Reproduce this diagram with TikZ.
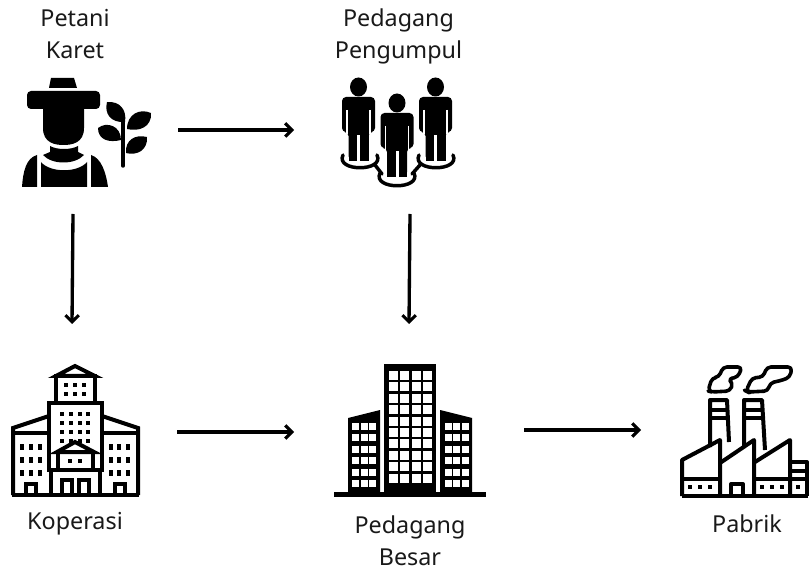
\documentclass[tikz,border=0pt]{standalone}
\usepackage{fontspec}
\setmainfont{Noto Sans}
\usetikzlibrary{arrows.meta}
\tikzset{
  flow/.style={line width=2.5pt,-{Straight Barb[length=5pt,width=10pt,line width=2.3pt]}},
  lbl/.style={font=\fontsize{17.5}{24}\selectfont,align=center,text=black!90,inner sep=0pt},
  ln/.style={line width=3pt,line join=miter,draw=black},
  ring/.style={line width=2.6pt,line cap=round},
  frame/.style={inner sep=0pt,outer sep=0pt}
}
\begin{document}
\begin{tikzpicture}[x=.75pt,y=-.75pt]
\useasboundingbox (0,0) rectangle (810,566);
% invisible icon frames that connectors attach to
\node[frame,minimum width=157.5pt,minimum height=126pt] (petani) at (73,130) {};
\node[frame,minimum width=174pt,minimum height=126pt] (pengumpul) at (410,130) {};
\node[frame,minimum width=157.5pt,minimum height=162pt] (koperasi) at (72,432) {};
\node[frame,minimum width=172.5pt,minimum height=162pt] (besar) at (409,432) {};
\node[frame,minimum width=100pt,minimum height=100pt] (pabrik) at (707.67,430) {};
% labels
\node[lbl] (t1) at (75,34.5) {Petani\\Karet};
\node[lbl] (t2) at (398.5,36) {Pedagang\\Pengumpul};
\node[lbl] (t3) at (75,524) {Koperasi};
\node[lbl] (t4) at (410,540.5) {Pedagang\\Besar};
\node[lbl] (t5) at (747,524) {Pabrik};
% connectors
\draw[flow] (petani.east) -- (pengumpul.west);
\draw[flow] (petani.south) -- (koperasi.north);
\draw[flow] (pengumpul.south) -- (besar.north);
\draw[flow] (koperasi.east) -- (besar.west);
\draw[flow] (besar.east |- pabrik.west) -- (pabrik.west);
% farmer
\fill (51,78) -- (74,78) -- (77,88) -- (49,88) -- cycle;
\fill[rounded corners=3] (27,91) rectangle (100,109);
\fill (43,105) -- (84,105) -- (84,128) .. controls (84,143) and (72,145) .. (63.5,145) .. controls (55,145) and (43,143) .. (43,128) -- cycle;
\fill (50,146) .. controls (57,150) and (71,150) .. (78,146) -- (78,152) -- (84,155) .. controls (75,165) and (52,165) .. (43,155) -- (50,152) -- cycle;
\fill (22,187) .. controls (23,172) and (26,158) .. (37,155) -- (37,187) -- cycle;
\fill (41,162) .. controls (50,173) and (78,173) .. (87,162) -- (87,187) -- (41,187) -- cycle;
\fill (91,155) .. controls (101,158) and (106,172) .. (108,187) -- (91,187) -- cycle;
\draw[line width=2.6pt,line cap=round] (123,118) -- (123,166);
\fill (107,102) .. controls (120,101) and (127,110) .. (125,122) .. controls (111,123) and (104,114) .. (107,102) -- cycle;
\fill (151,113) .. controls (140,108) and (127,114) .. (127,129) .. controls (139,132) and (152,127) .. (151,113) -- cycle;
\fill (98,128) .. controls (107,121) and (121,126) .. (121,140) .. controls (109,143) and (98,140) .. (98,128) -- cycle;
\fill (147,137) .. controls (135,134) and (125,140) .. (126,153) .. controls (137,156) and (148,150) .. (147,137) -- cycle;
% people
\newcommand\personfig[2]{%
\begin{scope}[shift={(#1,#2)}]
\fill (0,-38) ellipse (8.5 and 9.5);
\fill[rounded corners=3] (-16.5,7) -- (-16.5,-28) -- (16.5,-28) -- (16.5,7) -- (10,7) -- (10,35) -- (1.5,35) -- (1.5,9) -- (-1.5,9) -- (-1.5,35) -- (-10,35) -- (-10,7) -- cycle;
\fill (-10,3) rectangle (10,36);
\fill[white] (-1.5,10) rectangle (1.5,36);
\draw[white,line width=1.2pt] (-11.5,-15) -- (-11.5,9) (11.5,-15) -- (11.5,9);
\end{scope}}
\draw[ring] (343,155) .. controls (335,172) and (385,172) .. (377,155);
\draw[ring] (419,155) .. controls (411,172) and (461,172) .. (453,155);
\draw[ring] (380,173) .. controls (372,190) and (422,190) .. (414,173);
\draw[ring] (375,165) -- (382,174) (420,165) -- (412,174);
\personfig{358.5}{125}
\personfig{435.5}{125}
\personfig{397}{141}
% koperasi building
\begin{scope}[ln]
\draw (56,376) -- (75,366) -- (95,376) -- cycle;
\draw (56,376) rectangle (95,403);
\draw (49,403) rectangle (102,470);
\draw (13,495) -- (13,428) -- (49,416);
\draw (102,416) -- (138,428) -- (138,495);
\draw (13,433) -- (49,433) (102,433) -- (138,433);
\draw (12,495) -- (139,495);
\draw (57,452) -- (75,442) -- (94,452) -- cycle;
\draw (58,452) rectangle (93,470);
\draw (51,470) rectangle (100,495);
\draw (62,495) -- (62,480) -- (72,480) -- (72,495);
\draw (79,495) -- (79,480) -- (89,480) -- (89,495);
\draw (26,495) -- (26,484) -- (36,484) -- (36,495);
\draw (115,495) -- (115,484) -- (125,484) -- (125,495);
\end{scope}
\foreach \y in {385,394} \foreach \x in {66,75,84} \fill (\x-2,\y-2) rectangle +(4,4);
\foreach \y in {414,423,432,441} \foreach \x in {62,71,80,88} \fill (\x-2,\y-2) rectangle +(4,4);
\foreach \x in {70,80} \fill (\x-2,461-2) rectangle +(4,4);
\foreach \y in {447,460,473} \foreach \x in {22,31,40,111,119,128} \fill (\x-2,\y-3) rectangle +(4,6);
% tall building
\fill (384,364) rectangle (436,495);
\foreach \r in {0,...,9} \foreach \c in {0,...,3}
  \fill[white] (389+\c*11.4,371+\r*11.4) rectangle +(9,9);
\fill (348,418) -- (380,410) -- (380,495) -- (348,495) -- cycle;
\fill (440,410) -- (472,418) -- (472,495) -- (440,495) -- cycle;
\foreach \r in {0,...,5} \foreach \c in {0,1,2} {
  \fill[white] (352+\c*8.6,423+\r*11.4) rectangle +(7,7);
  \fill[white] (444.5+\c*8.6,423+\r*11.4) rectangle +(7,7);
}
\fill (334,492) rectangle (486,497);
% factory
\begin{scope}[ln,line join=round]
\draw (682,496) -- (682,460) -- (720,440) -- (720,496);
\draw (720,463) -- (754,440) -- (754,496);
\draw (755,462) -- (790,440) -- (790,496);
\draw (682,496) -- (808,496);
\draw (682,479) -- (720,479) (754,479) -- (808,479);
\draw (790,462) -- (807,462) -- (807,496);
\draw (790,471) -- (807,471);
\draw (710,447) -- (710,400) -- (727,400) -- (729,442);
\draw (744,447) -- (744,400) -- (762,400) -- (765,450);
\draw (710,410) -- (727,410) (710,418) -- (728,418);
\draw (744,410) -- (762,410) (744,418) -- (763,418);
\draw (731,496) -- (731,484) -- (743,484) -- (743,496);
\draw[line width=2.7pt,rounded corners=3] (712,392) -- (730,391) -- (733,383) -- (728,379) -- (738,377) -- (742,367) -- (723,367) -- (719,377) -- (712,378) -- (708,391) -- cycle;
\draw[line width=2.7pt,rounded corners=3] (748,392) -- (768,391) -- (770,383) -- (783,380) -- (790,377) -- (792,367) -- (767,367) -- (763,377) -- (752,378) -- (746,391) -- cycle;
\end{scope}
\foreach \x in {690,700,710,762,772,782,798} \fill (\x-2,485) rectangle +(4,4);
\end{tikzpicture}
\end{document}
